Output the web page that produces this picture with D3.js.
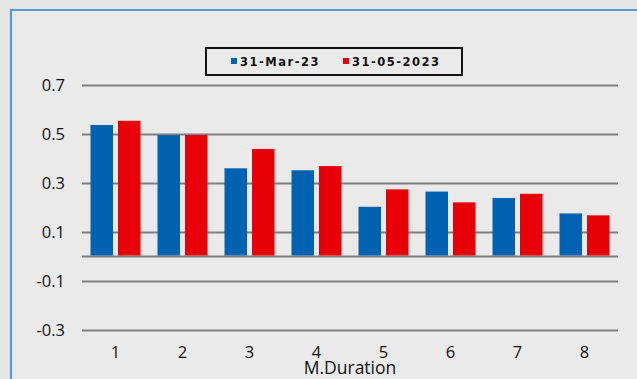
<!DOCTYPE html>
<html>
<head>
<meta charset="utf-8">
<script src="https://cdn.jsdelivr.net/npm/d3@7"></script>
<style>
  html, body { margin: 0; padding: 0; background: #e6e6e6; }
  svg { display: block; }
</style>
</head>
<body>
<div id="chart"></div>
<script>
// Modified duration buckets and the two snapshot series
const categories = ["1", "2", "3", "4", "5", "6", "7", "8"];
const seriesNames = ["31-Mar-23", "31-05-2023"];
const marValues = [0.537, 0.496, 0.360, 0.352, 0.203, 0.265, 0.239, 0.176];
const mayValues = [0.554, 0.496, 0.439, 0.369, 0.274, 0.221, 0.256, 0.168];
const yTicks = [0.7, 0.5, 0.3, 0.1, -0.1, -0.3];
const xTitle = "M.Duration";

const W = 637, H = 379;
const colors = ["#0062b0", "#e80008"];
const gridColor = "#7f7f7f";

const svg = d3.select("#chart").append("svg")
  .attr("width", W).attr("height", H);

// chart area with its blue frame
svg.append("rect").attr("x", 11).attr("y", 10).attr("width", W).attr("height", H)
  .attr("fill", "#eaeaea");
svg.append("path")
  .attr("d", `M11,${H + 2} L11,10 L${W + 2},10`)
  .attr("fill", "none").attr("stroke", "#5b9bd5").attr("stroke-width", 2.2);

const plot = { left: 82, right: 618, top: 85, bottom: 330 };

const y = d3.scaleLinear().domain([-0.3, 0.7]).range([plot.bottom, plot.top]);
const x = d3.scaleBand().domain(categories).range([plot.left, plot.right]).padding(0);

// horizontal gridlines via the axis generator (plain hyphen for negatives)
const yAxis = d3.axisLeft(y).tickValues(yTicks).tickSize(-(plot.right - plot.left))
  .tickFormat(d => d.toFixed(1)).tickPadding(17);
const gy = svg.append("g").attr("transform", `translate(${plot.left},0)`).call(yAxis);
gy.select(".domain").remove();
gy.selectAll(".tick line").attr("stroke", gridColor).attr("stroke-width", 2);
gy.selectAll(".tick text")
  .attr("font-family", "'Open Sans', sans-serif").attr("font-size", 16.5)
  .attr("fill", "#111").attr("dy", "0.36em");

// zero baseline
svg.append("line")
  .attr("x1", plot.left).attr("x2", plot.right)
  .attr("y1", y(0)).attr("y2", y(0))
  .attr("stroke", gridColor).attr("stroke-width", 2);

// grouped bars
const barW = 22.5, gap = 5;
const groupW = barW * 2 + gap;
const series = [marValues, mayValues];
series.forEach((vals, si) => {
  svg.append("g").selectAll("rect")
    .data(vals)
    .join("rect")
    .attr("x", (d, i) => x(categories[i]) + (x.bandwidth() - groupW) / 2 + si * (barW + gap))
    .attr("width", barW)
    .attr("y", d => y(Math.max(0, d)))
    .attr("height", d => Math.abs(y(d) - y(0)) - 1)
    .attr("fill", colors[si]);
});

// category labels along the bottom
const xAxis = d3.axisBottom(x).tickSize(0).tickPadding(0);
const gx = svg.append("g").attr("transform", `translate(0,${plot.bottom})`).call(xAxis);
gx.select(".domain").remove();
gx.selectAll(".tick text")
  .attr("font-family", "'Open Sans', sans-serif").attr("font-size", 16.5)
  .attr("fill", "#111").attr("dy", null).attr("y", 27.5);

svg.append("text")
  .attr("x", (plot.left + plot.right) / 2).attr("y", 373.5)
  .attr("text-anchor", "middle")
  .attr("font-family", "'Open Sans', sans-serif").attr("font-size", 17.5)
  .attr("fill", "#111")
  .text(xTitle);

// legend
const lg = svg.append("g");
lg.append("rect").attr("x", 206).attr("y", 48).attr("width", 256).attr("height", 27)
  .attr("fill", "#eaeaea").attr("stroke", "#111").attr("stroke-width", 2);
const legendX = [231, 343];
seriesNames.forEach((name, i) => {
  lg.append("rect").attr("x", legendX[i]).attr("y", 58).attr("width", 6).attr("height", 6)
    .attr("fill", colors[i]);
  lg.append("text").attr("x", legendX[i] + 9).attr("y", 65.5)
    .attr("font-family", "'DejaVu Sans', sans-serif").attr("font-weight", "bold")
    .attr("font-size", 11.5).attr("letter-spacing", 1.5).attr("fill", "#111")
    .text(name);
});
</script>
</body>
</html>
